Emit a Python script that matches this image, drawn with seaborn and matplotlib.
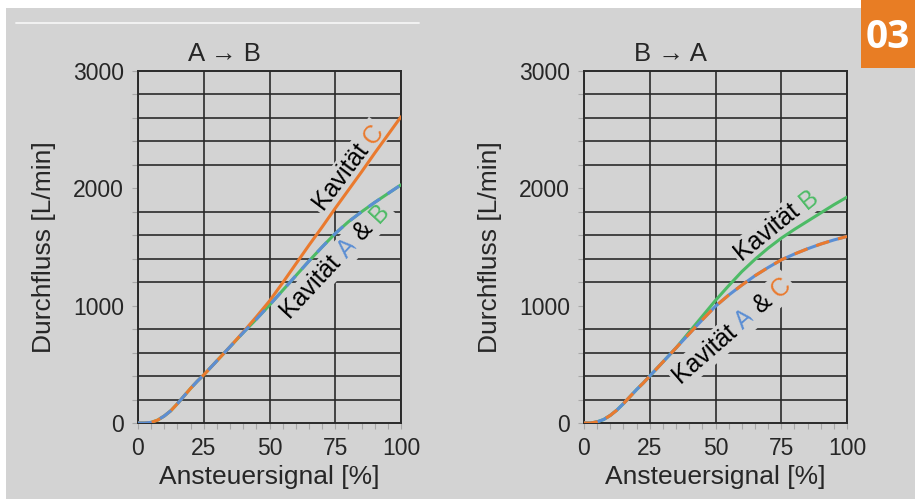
import numpy as np
import pandas as pd
import matplotlib
matplotlib.use("Agg")
import matplotlib.pyplot as plt
from matplotlib.patches import Rectangle
from matplotlib.lines import Line2D
import seaborn as sns

# Ansteuersignal [%]
signal = [0, 2.5, 5, 7.5, 10, 12.5, 15, 17.5, 20, 22.5, 25, 30, 35, 40, 45,
          50, 55, 60, 65, 70, 75, 80, 85, 90, 95, 100]

# A -> B, Durchfluss [L/min]
ab_kav_a = [0, 0, 5, 25, 60, 105, 165, 230, 295, 355, 410, 530, 650, 770, 885,
            1005, 1130, 1255, 1380, 1500, 1615, 1715, 1800, 1880, 1955, 2030]
ab_kav_b = ab_kav_a
ab_kav_c = [0, 0, 5, 25, 60, 105, 165, 230, 295, 355, 410, 530, 650, 775, 905,
            1040, 1195, 1355, 1515, 1670, 1830, 1985, 2140, 2300, 2455, 2610]

# B -> A, Durchfluss [L/min]
ba_kav_a = [0, 0, 10, 30, 65, 110, 165, 225, 285, 340, 400, 520, 640, 760, 880,
            995, 1090, 1175, 1255, 1325, 1390, 1440, 1485, 1525, 1560, 1590]
ba_kav_c = ba_kav_a
ba_kav_b = [0, 0, 10, 30, 65, 110, 165, 225, 285, 340, 400, 520, 640, 775, 910,
            1045, 1170, 1290, 1395, 1490, 1575, 1650, 1720, 1790, 1860, 1925]

titles = ["A \u2192 B", "B \u2192 A"]
x_ticks = [0, 25, 50, 75, 100]
y_ticks = [0, 1000, 2000, 3000]

BG = "#d3d3d3"
ORANGE = "#ea7a2e"
BLUE = "#5b8ed3"
GREEN = "#4dbb66"
GRID = "#2a2a2a"
DASH = (0, (4.5, 3))

sns.set_theme(style="white")
plt.rcParams["font.family"] = ["Liberation Sans", "DejaVu Sans"]

fig = plt.figure(figsize=(9.15, 4.99), dpi=100, facecolor=BG)
W, H = 915, 499


def px_axes(x0, x1, y0, y1):
    return fig.add_axes([x0 / W, 1 - y1 / H, (x1 - x0) / W, (y1 - y0) / H])


def curve(ax, y, color, dashed=False, z=3):
    df = pd.DataFrame({"signal": signal, "flow": y})
    sns.lineplot(data=df, x="signal", y="flow", ax=ax, color=color, lw=2.2,
                 linestyle=DASH if dashed else "-", zorder=z)


def rotated_label(ax, x, y, parts, angle, fs=18):
    renderer = fig.canvas.get_renderer()
    rad = np.deg2rad(angle)
    offset = 0.0
    for s, c in parts:
        ax.annotate(s, xy=(x, y), xytext=(offset * np.cos(rad), offset * np.sin(rad)),
                    textcoords="offset points", rotation=angle, rotation_mode="anchor",
                    ha="left", va="center", color=c, fontsize=fs, zorder=2.5,
                    bbox=dict(boxstyle="square,pad=0.1", fc=BG, ec="none"))
        tmp = fig.text(0, 0, s, fontsize=fs)
        offset += tmp.get_window_extent(renderer).width * 72 / fig.dpi
        tmp.remove()


def style_axes(ax, title):
    ax.set_facecolor(BG)
    ax.set_xlim(0, 100)
    ax.set_ylim(0, 3000)
    ax.set_xticks(x_ticks)
    ax.set_xticks(np.arange(0, 101, 5), minor=True)
    ax.set_yticks(y_ticks)
    ax.set_yticks(np.arange(0, 3001, 200), minor=True)
    ax.grid(True, which="major", axis="x", color=GRID, lw=1.2)
    ax.grid(True, which="minor", axis="y", color=GRID, lw=1.2)
    ax.set_axisbelow(True)
    for sp in ax.spines.values():
        sp.set_color(GRID)
        sp.set_linewidth(1.4)
    ax.tick_params(which="both", direction="out", color="#a8a8a8", length=4,
                   width=0.8, labelsize=16.5, pad=6, left=True, bottom=True)
    ax.set_xlabel("Ansteuersignal [%]", fontsize=19, labelpad=4)
    ax.set_ylabel("Durchfluss [L/min]", fontsize=19, labelpad=12)
    ax.set_title(title, fontsize=18.5, pad=7, x=0.33)


# decoration: white margins, thin white rule, orange badge
fig.patches.append(Rectangle((0, 1 - 8 / H), 1, 8 / H, transform=fig.transFigure,
                             fc="white", ec="none", zorder=0))
fig.patches.append(Rectangle((0, 0), 6 / W, 1, transform=fig.transFigure,
                             fc="white", ec="none", zorder=0))
fig.lines.append(Line2D([16 / W, 419 / W], [1 - 23 / H, 1 - 23 / H],
                        transform=fig.transFigure, color="#f2f2f2", lw=1.4))
fig.patches.append(Rectangle((861 / W, 1 - 68 / H), 54 / W, 68 / H,
                             transform=fig.transFigure, fc="#e87d24", ec="none",
                             zorder=1))
fig.text(888 / W, 1 - 37 / H, "03", color="white", fontsize=28, weight="bold",
         family="Open Sans", ha="center", va="center")

# A -> B
ax1 = px_axes(138, 401, 71, 423)
style_axes(ax1, titles[0])
curve(ax1, ab_kav_b, GREEN)
curve(ax1, ab_kav_c, ORANGE)
curve(ax1, ab_kav_a, BLUE, dashed=True, z=4)
rotated_label(ax1, 68.5, 1830, [("Kavität ", "black"), ("C", ORANGE)], 53)
rotated_label(ax1, 56, 920, [("Kavität ", "black"), ("A", BLUE),
                             (" & ", "black"), ("B", GREEN)], 47)

# B -> A
ax2 = px_axes(584, 847, 71, 423)
style_axes(ax2, titles[1])
curve(ax2, ba_kav_b, GREEN)
curve(ax2, ba_kav_a, BLUE)
curve(ax2, ba_kav_c, ORANGE, dashed=True, z=4)
rotated_label(ax2, 58.5, 1420, [("Kavität ", "black"), ("B", GREEN)], 39)
rotated_label(ax2, 35, 370, [("Kavität ", "black"), ("A", BLUE),
                             (" & ", "black"), ("C", ORANGE)], 41)

fig.savefig("out.png", dpi=100, facecolor=BG)
